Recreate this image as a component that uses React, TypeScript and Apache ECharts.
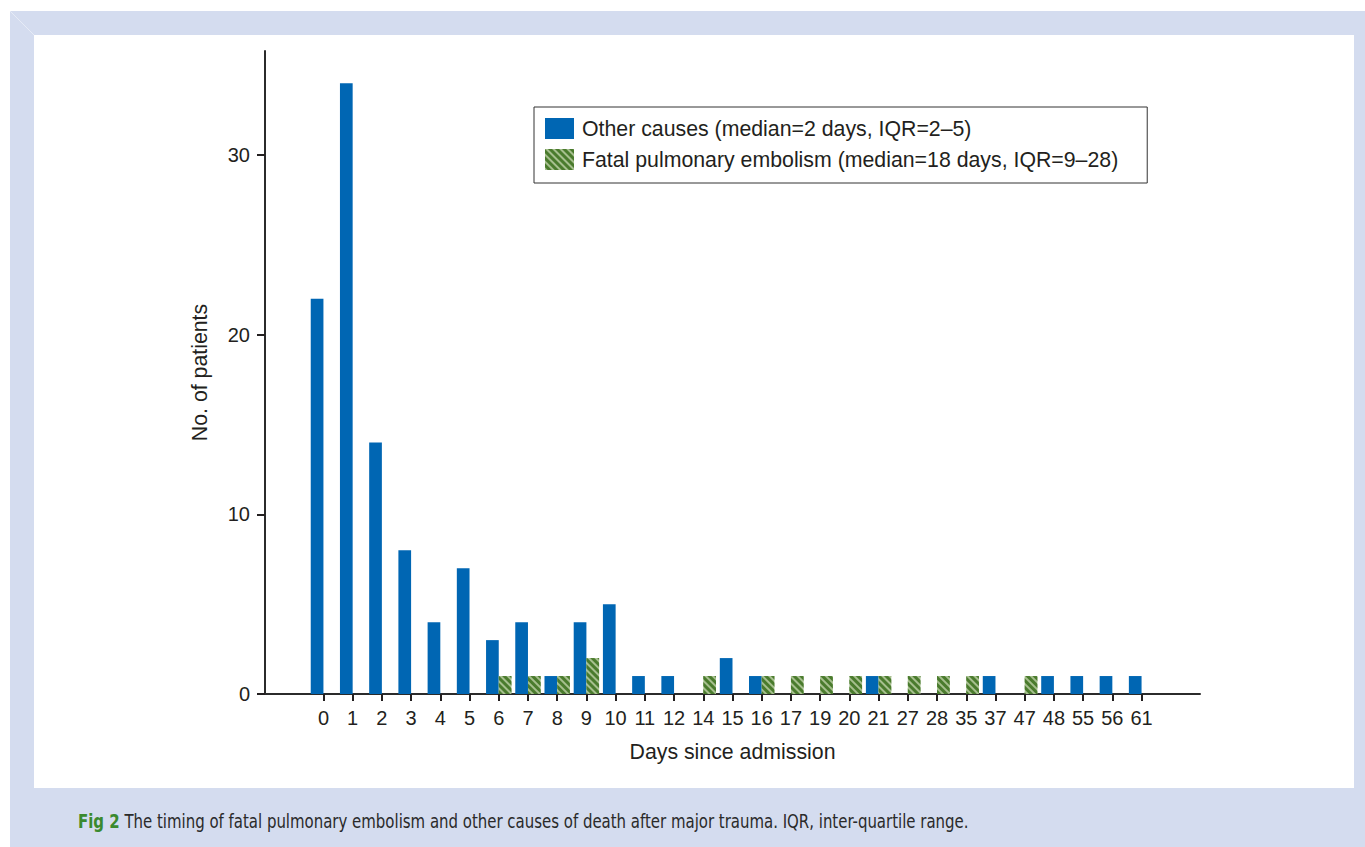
import React, { useEffect, useRef } from "react";
import * as echarts from "echarts";

const categories = ["0", "1", "2", "3", "4", "5", "6", "7", "8", "9", "10", "11", "12", "14", "15", "16", "17", "19", "20", "21", "27", "28", "35", "37", "47", "48", "55", "56", "61"];
const otherCauses = [22, 34, 14, 8, 4, 7, 3, 4, 1, 4, 5, 1, 1, 0, 2, 1, 0, 0, 0, 1, 0, 0, 0, 1, 0, 1, 1, 1, 1];
const fatalPE = [0, 0, 0, 0, 0, 0, 1, 1, 1, 2, 0, 0, 0, 1, 0, 1, 1, 1, 1, 1, 1, 1, 1, 0, 1, 0, 0, 0, 0];
const yTicks = [0, 10, 20, 30];
const seriesNames = [
  "Other causes (median=2 days, IQR=2\u20135)",
  "Fatal pulmonary embolism (median=18 days, IQR=9\u201328)",
];
const xName = "Days since admission";
const yName = "No. of patients";
const captionLabel = "Fig 2";
const captionText = "The timing of fatal pulmonary embolism and other causes of death after major trauma. IQR, inter-quartile range.";

const PAD = 2;
const pad = (arr: any[], fill: any) => [...Array(PAD).fill(fill), ...arr, ...Array(PAD).fill(fill)];

const FONT = "'Liberation Sans', Arial, Helvetica, sans-serif";
const CAPFONT = "'DejaVu Sans Condensed', 'Noto Sans', sans-serif";
const INK = "#231f20";

export default function App() {
  const ref = useRef<HTMLDivElement>(null);
  useEffect(() => {
    if (!ref.current) return;
    const chart = echarts.init(ref.current, undefined, { renderer: "svg" });
    const axisCats = pad(categories, "");
    const toData = (arr: number[]) => pad(arr.map((v) => (v === 0 ? "-" : v)), "-");
    chart.setOption({
      animation: false,
      backgroundColor: "#ffffff",
      textStyle: { fontFamily: FONT },
      graphic: [
        { type: "rect", z: -10, shape: { x: 10, y: 11, width: 1355, height: 836 }, style: { fill: "#d4dcef" } },
        { type: "line", z: -9, shape: { x1: 10, y1: 11, x2: 34, y2: 35 }, style: { stroke: "#e6ebf6", lineWidth: 1 } },
        { type: "rect", z: -8, shape: { x: 34, y: 35, width: 1320, height: 753 }, style: { fill: "#ffffff" } },
        {
          type: "text",
          z: 5,
          x: 78,
          y: 812,
          scaleX: 0.875,
          style: {
            text: "{b|" + captionLabel + "} " + captionText,
            fontFamily: CAPFONT,
            fontSize: 19,
            fill: "#2a2a2a",
            rich: {
              b: { fontWeight: "bold", fill: "#3b8a2e", fontSize: 19, fontFamily: CAPFONT },
            },
          },
        },
      ],
      legend: {
        orient: "vertical",
        left: 534,
        top: 107,
        padding: [11, 29, 13, 11],
        itemWidth: 29,
        itemHeight: 21,
        itemGap: 10,
        borderColor: "#333333",
        borderWidth: 1,
        backgroundColor: "#ffffff",
        icon: "rect",
        textStyle: { fontSize: 21.3, color: INK, fontFamily: FONT, padding: [0, 0, 0, 3] },
        data: seriesNames,
      },
      grid: { left: 265, right: 165, top: 51, bottom: 153, containLabel: false },
      xAxis: {
        type: "category",
        data: axisCats,
        boundaryGap: false,
        name: xName,
        nameLocation: "middle",
        nameGap: 47,
        nameTextStyle: { fontSize: 21.3, color: INK },
        axisLine: { lineStyle: { color: "#2b2b2b", width: 2 } },
        axisTick: {
          show: true,
          inside: false,
          length: 7,
          interval: (i: number) => i >= PAD && i < PAD + categories.length,
          lineStyle: { color: INK, width: 2 },
        },
        axisLabel: {
          interval: (i: number) => i >= PAD && i < PAD + categories.length,
          margin: 14,
          fontSize: 20,
          color: INK,
        },
        splitLine: { show: false },
      },
      yAxis: {
        type: "value",
        min: 0,
        max: 35.8,
        interval: 10,
        name: yName,
        nameLocation: "middle",
        nameGap: 55,
        nameTextStyle: { fontSize: 21.3, color: INK },
        axisLine: { show: true, lineStyle: { color: "#2b2b2b", width: 2 } },
        axisTick: { show: true, inside: false, length: 8, customValues: yTicks, lineStyle: { color: INK, width: 2 } },
        axisLabel: { customValues: yTicks, margin: 15, fontSize: 20, color: INK },
        splitLine: { show: false },
      },
      series: [
        {
          name: seriesNames[0],
          type: "bar",
          data: toData(otherCauses),
          barWidth: 12.7,
          barGap: "0%",
          itemStyle: { color: "#0066b3" },
        },
        {
          name: seriesNames[1],
          type: "bar",
          data: toData(fatalPE),
          barWidth: 12.7,
          barGap: "0%",
          itemStyle: {
            color: "#a6bf8e",
            decal: {
              symbol: "rect",
              symbolSize: 1,
              color: "#4a7b2d",
              dashArrayX: [1, 0],
              dashArrayY: [3, 2],
              rotation: Math.PI / 4,
            },
          },
        },
      ],
    });
    return () => chart.dispose();
  }, []);
  return <div ref={ref} style={{ position: "absolute", left: 0, top: 0, width: 1365, height: 847 }} />;
}
